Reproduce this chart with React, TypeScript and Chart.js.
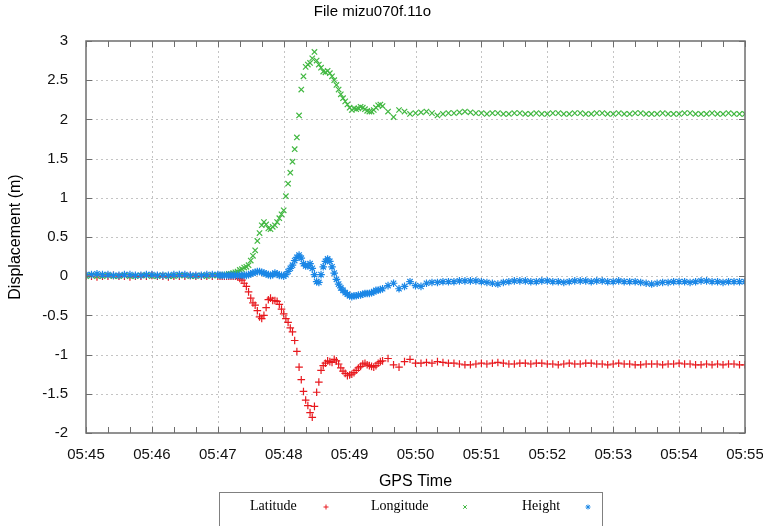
import React, { useEffect, useRef } from "react";
import { Chart, registerables } from "chart.js";

Chart.register(...registerables);

const TITLE = "File mizu070f.11o";
const X_TITLE = "GPS Time";
const Y_TITLE = "Displacement (m)";
const X_TICK_LABELS = ["05:45", "05:46", "05:47", "05:48", "05:49", "05:50", "05:51", "05:52", "05:53", "05:54", "05:55"];
const SERIES_NAMES = ["Latitude", "Longitude", "Height"];

// seconds after 05:45:00
const TIMES = [
  0, 5, 10, 15, 20, 25, 30, 35, 40, 45, 50, 55, 60, 65, 70, 75, 80, 85, 90, 95, 100, 105, 110, 115, 120,
  122, 124, 126, 128, 130, 132, 134, 136,
  138, 140, 142, 144, 146, 148, 150, 152, 154, 156, 158, 160,
  162, 164, 166, 168, 170, 172, 174, 176, 178, 180,
  182, 184, 186, 188, 190, 192, 194, 196, 198, 200,
  202, 204, 206, 208, 210, 212, 214, 216, 218, 220,
  222, 224, 226, 228, 230, 232, 234, 236, 238, 240,
  242, 244, 246, 248, 250, 252, 254, 256, 258, 260,
  262, 264, 266, 268, 270,
  275, 280, 285, 290, 295, 300, 305, 310, 315, 320,
  325, 330, 335, 340, 345, 350, 355, 360, 365, 370,
  375, 380, 385, 390, 395, 400, 405, 410, 415, 420,
  425, 430, 435, 440, 445, 450, 455, 460, 465, 470,
  475, 480, 485, 490, 495, 500, 505, 510, 515, 520,
  525, 530, 535, 540, 545, 550, 555, 560, 565, 570,
  575, 580, 585, 590, 595, 600,
];

const LATITUDE = [
  0.00, 0.00, -0.01, 0.00, 0.00, 0.01, 0.00, 0.00, -0.01, 0.00, 0.00, 0.00, 0.01, 0.00, 0.00, -0.01, 0.00, 0.00, 0.00, 0.01, 0.00, 0.00, 0.00, 0.00, 0.00,
  0.00, 0.00, 0.00, 0.00, 0.00, 0.00, 0.00, 0.00,
  -0.01, -0.03, -0.05, -0.09, -0.13, -0.20, -0.28, -0.34, -0.37, -0.44, -0.52, -0.54,
  -0.50, -0.40, -0.30, -0.28, -0.31, -0.31, -0.32, -0.36, -0.42, -0.48,
  -0.54, -0.59, -0.66, -0.71, -0.82, -0.96, -1.16, -1.32, -1.47, -1.58,
  -1.65, -1.74, -1.80, -1.66, -1.48, -1.35, -1.20, -1.14, -1.11, -1.08,
  -1.09, -1.10, -1.06, -1.08, -1.12, -1.17, -1.21, -1.24, -1.27, -1.26,
  -1.25, -1.23, -1.20, -1.17, -1.15, -1.12, -1.11, -1.13, -1.14, -1.15,
  -1.16, -1.14, -1.11, -1.09, -1.08,
  -1.05, -1.13, -1.16, -1.09, -1.06, -1.11, -1.11, -1.10, -1.11, -1.09,
  -1.10, -1.11, -1.11, -1.12, -1.13, -1.13, -1.12, -1.11, -1.12, -1.11,
  -1.10, -1.11, -1.12, -1.12, -1.11, -1.11, -1.12, -1.11, -1.11, -1.12,
  -1.12, -1.13, -1.12, -1.11, -1.12, -1.12, -1.11, -1.11, -1.12, -1.12,
  -1.13, -1.12, -1.11, -1.12, -1.12, -1.13, -1.13, -1.12, -1.12, -1.12,
  -1.13, -1.12, -1.12, -1.11, -1.12, -1.12, -1.13, -1.13, -1.12, -1.13,
  -1.12, -1.13, -1.12, -1.12, -1.13, -1.13,
];

const LONGITUDE = [
  0.00, 0.01, 0.00, 0.00, 0.01, 0.00, 0.00, 0.01, 0.00, 0.00, 0.01, 0.01, 0.00, 0.00, 0.01, 0.00, 0.00, 0.01, 0.01, 0.00, 0.00, 0.01, 0.00, 0.01, 0.01,
  0.01, 0.01, 0.02, 0.02, 0.03, 0.03, 0.04, 0.05,
  0.06, 0.08, 0.09, 0.11, 0.12, 0.14, 0.20, 0.26, 0.33, 0.45, 0.55, 0.65,
  0.69, 0.66, 0.61, 0.60, 0.63, 0.65, 0.69, 0.74, 0.79, 0.84,
  1.02, 1.18, 1.32, 1.46, 1.62, 1.77, 2.05, 2.38, 2.55, 2.67,
  2.70, 2.72, 2.78, 2.86, 2.75, 2.70, 2.66, 2.61, 2.60, 2.62,
  2.59, 2.55, 2.50, 2.44, 2.38, 2.32, 2.27, 2.23, 2.19, 2.15,
  2.12, 2.14, 2.13, 2.14, 2.16, 2.15, 2.13, 2.11, 2.10, 2.10,
  2.12, 2.15, 2.18, 2.19, 2.17,
  2.10, 2.03, 2.12, 2.10, 2.07, 2.08, 2.09, 2.10, 2.08, 2.05,
  2.07, 2.08, 2.08, 2.09, 2.10, 2.09, 2.08, 2.08, 2.07, 2.08,
  2.08, 2.07, 2.07, 2.08, 2.08, 2.07, 2.07, 2.08, 2.07, 2.07,
  2.08, 2.08, 2.07, 2.07, 2.08, 2.08, 2.07, 2.07, 2.08, 2.08,
  2.07, 2.07, 2.08, 2.07, 2.07, 2.08, 2.08, 2.07, 2.07, 2.07,
  2.08, 2.07, 2.07, 2.07, 2.08, 2.08, 2.07, 2.07, 2.07, 2.08,
  2.07, 2.07, 2.08, 2.07, 2.07, 2.07,
];

const HEIGHT = [
  0.02, 0.02, 0.03, 0.02, 0.02, 0.01, 0.01, 0.02, 0.02, 0.01, 0.01, 0.02, 0.02, 0.01, 0.01, 0.01, 0.02, 0.02, 0.02, 0.01, 0.01, 0.01, 0.02, 0.02, 0.02,
  0.01, 0.01, 0.01, 0.01, 0.01, 0.01, 0.01, 0.01,
  0.01, 0.01, 0.01, 0.01, 0.01, 0.02, 0.03, 0.04, 0.05, 0.06, 0.06, 0.05,
  0.04, 0.03, 0.02, 0.01, 0.02, 0.04, 0.03, 0.01, 0.01, 0.00,
  0.02, 0.06, 0.10, 0.14, 0.20, 0.24, 0.27, 0.23, 0.16, 0.13,
  0.13, 0.16, 0.10, 0.02, -0.07, -0.08, 0.02, 0.12, 0.19, 0.22,
  0.19, 0.12, 0.04, -0.04, -0.10, -0.15, -0.18, -0.21, -0.23, -0.25,
  -0.26, -0.25, -0.25, -0.24, -0.24, -0.23, -0.22, -0.22, -0.22, -0.21,
  -0.20, -0.18, -0.18, -0.17, -0.16,
  -0.12, -0.09, -0.16, -0.13, -0.07, -0.12, -0.13, -0.09, -0.08, -0.08,
  -0.07, -0.07, -0.07, -0.06, -0.06, -0.06, -0.06, -0.07, -0.08, -0.09,
  -0.10, -0.08, -0.07, -0.06, -0.06, -0.06, -0.07, -0.07, -0.06, -0.06,
  -0.07, -0.07, -0.08, -0.07, -0.06, -0.06, -0.06, -0.07, -0.06, -0.06,
  -0.07, -0.07, -0.06, -0.07, -0.07, -0.07, -0.08, -0.09, -0.10, -0.09,
  -0.08, -0.08, -0.07, -0.07, -0.07, -0.08, -0.07, -0.06, -0.06, -0.07,
  -0.07, -0.08, -0.07, -0.07, -0.07, -0.07,
];

const COLORS = ["#e8191e", "#42b842", "#1b87e6"];
const POINT_STYLES = ["cross", "crossRot", "star"];

const SANS = "'Liberation Sans', Arial, sans-serif";
const SERIF = "'Liberation Serif', 'Times New Roman', serif";

function drawMarker(ctx: CanvasRenderingContext2D, style: string, x: number, y: number, r: number) {
  ctx.beginPath();
  if (style === "cross" || style === "star") {
    ctx.moveTo(x - r, y);
    ctx.lineTo(x + r, y);
    ctx.moveTo(x, y - r);
    ctx.lineTo(x, y + r);
  }
  if (style === "crossRot" || style === "star") {
    const d = r * 0.7071;
    ctx.moveTo(x - d, y - d);
    ctx.lineTo(x + d, y + d);
    ctx.moveTo(x - d, y + d);
    ctx.lineTo(x + d, y - d);
  }
  ctx.stroke();
}

const framePlugin = {
  id: "gnuFrame",
  beforeDatasetsDraw(chart: any) {
    const { ctx, chartArea } = chart;
    const { left, right, top, bottom } = chartArea;
    const xs = chart.scales.x;
    const ys = chart.scales.y;
    ctx.save();
    ctx.strokeStyle = "#c4c4c4";
    ctx.lineWidth = 1;
    ctx.setLineDash([2, 3]);
    xs.ticks.forEach((t: any) => {
      const px = Math.round(xs.getPixelForValue(t.value)) + 0.5;
      if (px <= left + 1 || px >= right - 1) return;
      ctx.beginPath();
      ctx.moveTo(px, top);
      ctx.lineTo(px, bottom);
      ctx.stroke();
    });
    ys.ticks.forEach((t: any) => {
      const py = Math.round(ys.getPixelForValue(t.value)) + 0.5;
      if (py <= top + 1 || py >= bottom - 1) return;
      ctx.beginPath();
      ctx.moveTo(left, py);
      ctx.lineTo(right, py);
      ctx.stroke();
    });
    ctx.restore();
  },
  afterDraw(chart: any) {
    const { ctx, chartArea } = chart;
    const { left, right, top, bottom } = chartArea;
    const xs = chart.scales.x;
    const ys = chart.scales.y;
    ctx.save();
    ctx.setLineDash([]);
    ctx.strokeStyle = "#6e6e6e";
    ctx.lineWidth = 1.5;
    ctx.strokeRect(left, top, right - left, bottom - top);
    ctx.lineWidth = 1;
    // minor ticks every 20 s, major every 60 s
    for (let t = xs.min; t <= xs.max; t += 20) {
      const px = Math.round(xs.getPixelForValue(t)) + 0.5;
      const len = 6;
      ctx.beginPath();
      ctx.moveTo(px, bottom);
      ctx.lineTo(px, bottom - len);
      ctx.moveTo(px, top);
      ctx.lineTo(px, top + len);
      ctx.stroke();
    }
    ys.ticks.forEach((t: any) => {
      const py = Math.round(ys.getPixelForValue(t.value)) + 0.5;
      ctx.beginPath();
      ctx.moveTo(left, py);
      ctx.lineTo(left + 6, py);
      ctx.moveTo(right, py);
      ctx.lineTo(right - 6, py);
      ctx.stroke();
    });

    // legend box
    ctx.strokeStyle = "#808080";
    ctx.lineWidth = 1;
    ctx.strokeRect(219.5, 492.5, 383, 45);
    ctx.font = `14px ${SERIF}`;
    ctx.textBaseline = "middle";
    ctx.textAlign = "left";
    const textX = [250, 371, 522];
    const markX = [326, 465, 588];
    chart.data.datasets.forEach((ds: any, i: number) => {
      ctx.fillStyle = "#000";
      ctx.fillText(ds.label, textX[i], 506);
      ctx.strokeStyle = ds.borderColor;
      ctx.lineWidth = 1;
      drawMarker(ctx, ds.pointStyle, markX[i], 507, 2.5);
    });
    ctx.restore();
  },
};

export default function App() {
  const canvasRef = useRef<HTMLCanvasElement | null>(null);

  useEffect(() => {
    const canvas = canvasRef.current;
    if (!canvas) return;
    const series = [LATITUDE, LONGITUDE, HEIGHT];
    const datasets = series.map((vals, i) => ({
      label: SERIES_NAMES[i],
      data: TIMES.map((t, j) => ({ x: t, y: vals[j] })),
      showLine: false,
      pointStyle: POINT_STYLES[i],
      pointRadius: 3.8,
      pointBorderWidth: 1.2,
      borderColor: COLORS[i],
      backgroundColor: COLORS[i],
      order: 2 - i,
    }));

    const chart = new Chart(canvas, {
      type: "scatter",
      data: { datasets },
      plugins: [framePlugin],
      options: {
        responsive: false,
        animation: false,
        events: [],
        layout: { padding: { left: 0, right: 18, top: 0, bottom: 0 } },
        plugins: {
          legend: { display: false },
          tooltip: { enabled: false },
          title: {
            display: true,
            text: TITLE,
            color: "#000",
            font: { family: SANS, size: 15, weight: "normal" },
            padding: { top: 3, bottom: 20 },
          },
        },
        scales: {
          x: {
            type: "linear",
            min: 0,
            max: 600,
            grid: { display: false },
            border: { display: false },
            ticks: {
              stepSize: 60,
              autoSkip: false,
              maxRotation: 0,
              padding: 5,
              color: "#111",
              font: { family: SANS, size: 15 },
              callback: (v: any) => X_TICK_LABELS[Math.round(Number(v) / 60)] ?? "",
            },
            title: {
              display: true,
              text: X_TITLE,
              color: "#000",
              font: { family: SANS, size: 16 },
              padding: { top: 0, bottom: 35 },
            },
            afterFit: (scale: any) => {
              scale.height = 93;
              scale.paddingLeft = 0;
              scale.paddingRight = 0;
            },
          },
          y: {
            type: "linear",
            min: -2,
            max: 3,
            grid: { display: false },
            border: { display: false },
            ticks: {
              stepSize: 0.5,
              padding: 10,
              color: "#111",
              font: { family: SANS, size: 15 },
              callback: (v: any) => String(Number(v)),
            },
            title: {
              display: true,
              text: Y_TITLE,
              color: "#000",
              font: { family: SANS, size: 16 },
              padding: { top: 6, bottom: 0 },
            },
            afterFit: (scale: any) => {
              scale.width = 86;
              scale.paddingTop = 0;
              scale.paddingBottom = 0;
            },
          },
        },
      },
    } as any);

    return () => chart.destroy();
  }, []);

  return (
    <div style={{ position: "absolute", left: 0, top: 0, width: 763, height: 526, background: "#fff" }}>
      <canvas ref={canvasRef} width={763} height={526} style={{ display: "block" }} />
    </div>
  );
}
